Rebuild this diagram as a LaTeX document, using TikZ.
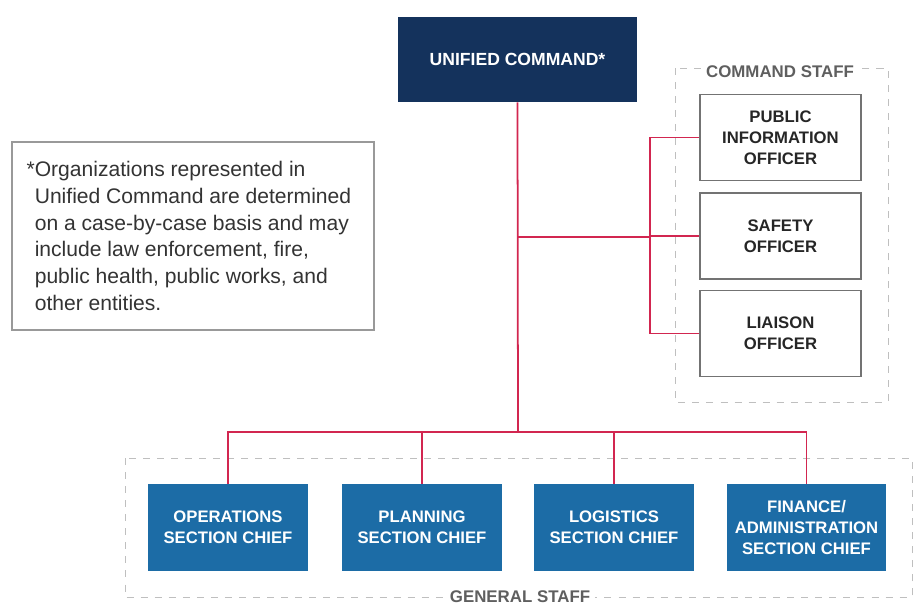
\documentclass[tikz,border=0pt]{standalone}
\usepackage{fontspec}
\setmainfont{Liberation Sans}
\usepackage{tikz}
\definecolor{ucnavy}{RGB}{20,50,92}
\definecolor{secblue}{RGB}{28,108,166}
\definecolor{linkred}{RGB}{210,38,80}
\definecolor{staffgray}{RGB}{95,95,95}

\begin{document}
\begin{tikzpicture}[x=0.02cm, y=-0.02cm, font=\bfseries\fontsize{9.5}{12}\selectfont,
  chief/.style={rectangle, fill=secblue, text=white, align=center, minimum width=3.2cm, minimum height=1.74cm, inner sep=0pt},
  officer/.style={rectangle, draw=black!55, line width=0.8pt, fill=white, text=black!85, align=center, minimum width=3.22cm, minimum height=1.72cm, inner sep=0pt},
  link/.style={draw=linkred, line width=1pt},
  staffbox/.style={draw=black!25, dash pattern=on 4pt off 4pt},
  stafflabel/.style={fill=white, text=staffgray, inner sep=3pt, font=\bfseries\fontsize{9.6}{12}\selectfont}]
\useasboundingbox (0,0) rectangle (917,606);
% Staff areas
\draw[staffbox] (675,68) rectangle (888,402);
\draw[staffbox] (125,458) rectangle (912,597);
\node[stafflabel] (cslabel) at (780,72) {COMMAND STAFF};
\node[stafflabel] (gslabel) at (520,597) {GENERAL STAFF};

% Top of the chart
\node[rectangle, fill=ucnavy, text=white, minimum width=4.78cm, minimum height=1.7cm, inner sep=0pt, font=\bfseries\fontsize{10}{12}\selectfont] (uc) at (517.5,59.5) {UNIFIED COMMAND*};

% Footnote box
\node[rectangle, draw=black!40, line width=0.8pt, minimum width=7.24cm, minimum height=3.76cm, inner sep=0pt, align=left, text=black!80, font=\mdseries\fontsize{12}{15.3}\selectfont] (note) at (193,236)
  {\llap{*}Organizations represented in\\Unified Command are determined\\on a case-by-case basis and may\\include law enforcement, fire,\\public health, public works, and\\other entities.};

% Command staff
\node[officer] (pio) at (780.5,137.5) {PUBLIC\\INFORMATION\\OFFICER};
\node[officer] (safety) at (780.5,236) {SAFETY\\OFFICER};
\node[officer] (liaison) at (780.5,333.5) {LIAISON\\OFFICER};

% General staff
\node[chief] (ops) at (228,527.5) {OPERATIONS\\SECTION CHIEF};
\node[chief] (plan) at (422,527.5) {PLANNING\\SECTION CHIEF};
\node[chief] (logi) at (614,527.5) {LOGISTICS\\SECTION CHIEF};
\node[chief] (fin) at (806.5,527.5) {FINANCE/\\ADMINISTRATION\\SECTION CHIEF};

% Connectors
\coordinate (bus) at (518,432);
\coordinate (cs) at (650,237);
\coordinate (junc) at (uc.south |- cs);
\draw[link] (uc.south) -- (bus);
\draw[link] (junc) -- (cs);
\foreach \o in {pio,safety,liaison}
  \draw[link] (cs) |- (\o.west);
\foreach \s in {ops,plan,logi,fin}
  \draw[link] (bus) -| (\s.north);
\end{tikzpicture}
\end{document}
